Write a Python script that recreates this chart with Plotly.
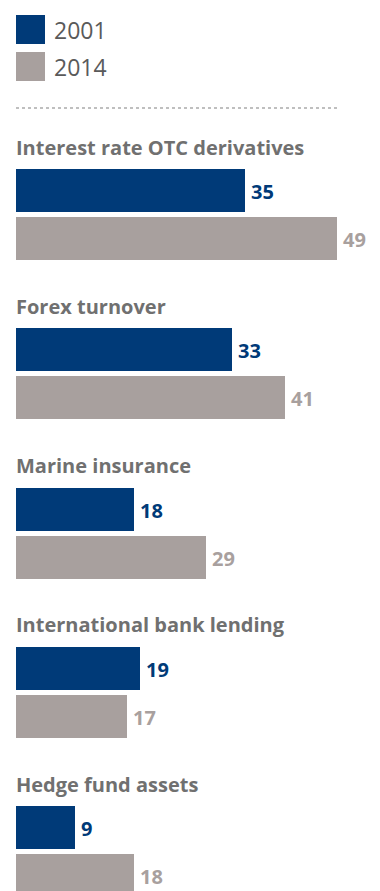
import plotly.graph_objects as go

categories = ["Interest rate OTC derivatives", "Forex turnover", "Marine insurance",
              "International bank lending", "Hedge fund assets"]
values_2001 = [35, 33, 18, 19, 9]
values_2014 = [49, 41, 29, 17, 18]
series_names = ["2001", "2014"]

BLUE = "#003a78"
GRAY = "#a8a09e"
TITLE_GRAY = "#707070"

W, H = 380, 891
x0_px = 16
px_per_unit = 6.55
first_bar_top = 169
period = 159.3
bar_h = 43
gap = 5

y01 = [first_bar_top + period * i + bar_h / 2 for i in range(len(categories))]
y14 = [y + bar_h + gap for y in y01]

fig = go.Figure()
annotations = []
for name, vals, ys, col in [(series_names[0], values_2001, y01, BLUE),
                            (series_names[1], values_2014, y14, GRAY)]:
    fig.add_trace(go.Bar(
        x=vals, y=ys, orientation="h", width=bar_h, name=name,
        marker=dict(color=col, line=dict(width=0)), hoverinfo="skip",
    ))
    for v, yy in zip(vals, ys):
        annotations.append(dict(
            x=v, xref="x", y=yy + 1, yref="y", text=str(v), showarrow=False,
            xanchor="left", yanchor="middle", xshift=4,
            font=dict(family="Open Sans", size=20, color=col, weight=700),
        ))

for i, c in enumerate(categories):
    annotations.append(dict(
        x=x0_px / W, xref="paper", y=first_bar_top + period * i - 22, yref="y",
        text=c, showarrow=False, xanchor="left", yanchor="middle", xshift=-2,
        font=dict(family="Open Sans", size=20, color=TITLE_GRAY, weight=700),
    ))

shapes = []
legend_tops = [15, 52]
for name, top, col in zip(series_names, legend_tops, [BLUE, GRAY]):
    shapes.append(dict(type="rect", xref="paper", yref="y",
                       x0=16 / W, x1=45 / W, y0=top, y1=top + 29,
                       fillcolor=col, line=dict(width=0)))
    annotations.append(dict(
        x=54 / W, xref="paper", y=top + 14.5, yref="y", text=name,
        showarrow=False, xanchor="left", yanchor="middle", xshift=-2,
        font=dict(family="Open Sans", size=23, color="#5a5a5a"),
    ))

shapes.append(dict(type="line", xref="paper", yref="y", x0=16 / W, x1=338 / W,
                   y0=108, y1=108, line=dict(color="#aaaaaa", width=1.5, dash="dot")))

fig.update_layout(
    width=W, height=H, margin=dict(l=0, r=0, t=0, b=0),
    paper_bgcolor="white", plot_bgcolor="white",
    showlegend=False, barmode="overlay", bargap=0,
    xaxis=dict(range=[-x0_px / px_per_unit, (W - x0_px) / px_per_unit],
               visible=False, fixedrange=True),
    yaxis=dict(range=[H, 0], visible=False, fixedrange=True),
    annotations=annotations, shapes=shapes,
)

fig.write_html("out.html")
